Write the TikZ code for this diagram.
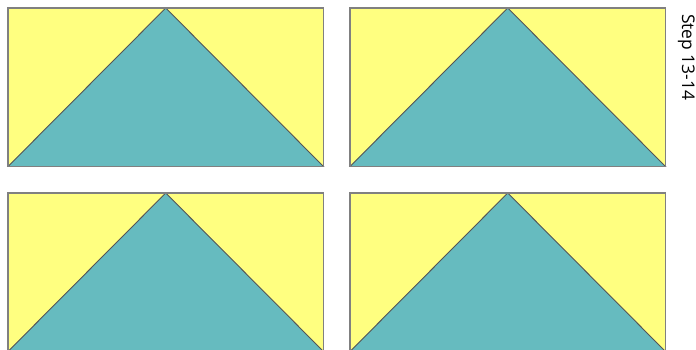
\documentclass[tikz,border=0pt]{standalone}
\usepackage{fontspec}
\setmainfont{Open Sans}
\definecolor{qyellow}{HTML}{FFFF80}
\definecolor{qteal}{HTML}{66BBBF}
\definecolor{qedge}{HTML}{808080}
\definecolor{qdiag}{HTML}{555555}
\begin{document}
\begin{tikzpicture}[x=1bp,y=-1bp]
\tikzset{
  block/.style={fill=qyellow,draw=qedge,line width=1.2bp},
  tri/.style={fill=qteal,draw=qdiag,line width=0.9bp,line join=miter},
}
\useasboundingbox (0,0) rectangle (696,349);
\clip (0,0) rectangle (696,349);
\foreach \ox/\oy in {8/8, 350/8, 8/193, 350/193}{
  \begin{scope}[shift={(\ox,\oy)}]
    \draw[block] (0,0) rectangle (315.5,158.5);
    \draw[tri] (0,158.5) -- (157.75,0) -- (315.5,158.5) -- cycle;
    \draw[qedge,line width=1.2bp] (0,0) rectangle (315.5,158.5);
  \end{scope}
}
\node[rotate=-90,anchor=north west,inner sep=0pt,font=\fontsize{17.5}{20}\selectfont] (lbl) at (695,14) {Step 13-14};
\end{tikzpicture}
\end{document}
